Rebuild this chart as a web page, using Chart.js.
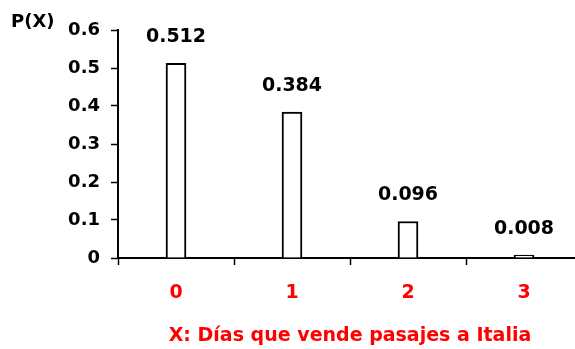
<!DOCTYPE html>
<html>
<head>
<meta charset="utf-8">
<script src="https://cdn.jsdelivr.net/npm/chart.js@4"></script>
<style>
  html, body { margin: 0; padding: 0; overflow: hidden; background: #fff; }
  #wrap { position: relative; width: 582px; height: 349px; }
</style>
</head>
<body>
<div id="wrap"><canvas id="c"></canvas></div>
<script>
// Binomial distribution of days with ticket sales to Italy
const categories = ['0', '1', '2', '3'];
const probabilities = [0.512, 0.384, 0.096, 0.008];
const yTicks = [0, 0.1, 0.2, 0.3, 0.4, 0.5, 0.6];
const yAxisLabel = 'P(X)';
const xAxisTitle = 'X: Días que vende pasajes a Italia';

const FONT = 'DejaVu Sans';
Chart.defaults.font.family = FONT;

// Draws each bar's value above it and the P(X) caption beside the y axis
const annotate = {
  id: 'annotate',
  afterDatasetsDraw(chart) {
    const ctx = chart.ctx;
    ctx.save();
    ctx.fillStyle = '#000';
    ctx.font = 'bold 19px "' + FONT + '"';
    ctx.textAlign = 'center';
    ctx.textBaseline = 'middle';
    chart.getDatasetMeta(0).data.forEach((bar, i) => {
      ctx.fillText(probabilities[i].toFixed(3), bar.x, bar.y - 26);
    });
    ctx.font = 'bold 18px "' + FONT + '"';
    ctx.textAlign = 'left';
    ctx.fillText(yAxisLabel, 11, 22);
    ctx.restore();
  }
};

new Chart(document.getElementById('c'), {
  type: 'bar',
  data: {
    labels: categories,
    datasets: [{
      data: probabilities,
      backgroundColor: '#fff',
      borderColor: '#000',
      borderWidth: 2,
      barThickness: 20
    }]
  },
  options: {
    responsive: true,
    maintainAspectRatio: false,
    animation: false,
    devicePixelRatio: 1,
    layout: { padding: { top: 30, left: 0, right: 0, bottom: 0 } },
    plugins: { legend: { display: false }, tooltip: { enabled: false } },
    scales: {
      x: {
        type: 'category',
        offset: true,
        grid: { display: true, drawOnChartArea: false, offset: true, tickLength: 7, tickWidth: 1.5, tickColor: '#000' },
        border: { display: true, color: '#000', width: 2 },
        ticks: { color: '#f00', font: { size: 19, weight: 'bold' }, padding: 17, maxRotation: 0 },
        title: { display: true, text: xAxisTitle, color: '#f00', font: { size: 19, weight: 'bold' }, padding: { top: 0, bottom: 2 } },
        afterFit(scale) { scale.height = 91; }
      },
      y: {
        min: 0,
        max: 0.6,
        grid: { display: true, drawOnChartArea: false, tickLength: 7, tickWidth: 1.5, tickColor: '#000' },
        border: { display: true, color: '#000', width: 2 },
        ticks: {
          color: '#000',
          font: { size: 18, weight: 'bold' },
          padding: 11,
          callback: v => (v === 0 ? '0' : v.toFixed(1))
        },
        afterBuildTicks(scale) { scale.ticks = yTicks.map(v => ({ value: v })); },
        afterFit(scale) { scale.width = 118; }
      }
    }
  },
  plugins: [annotate]
});
</script>
</body>
</html>
